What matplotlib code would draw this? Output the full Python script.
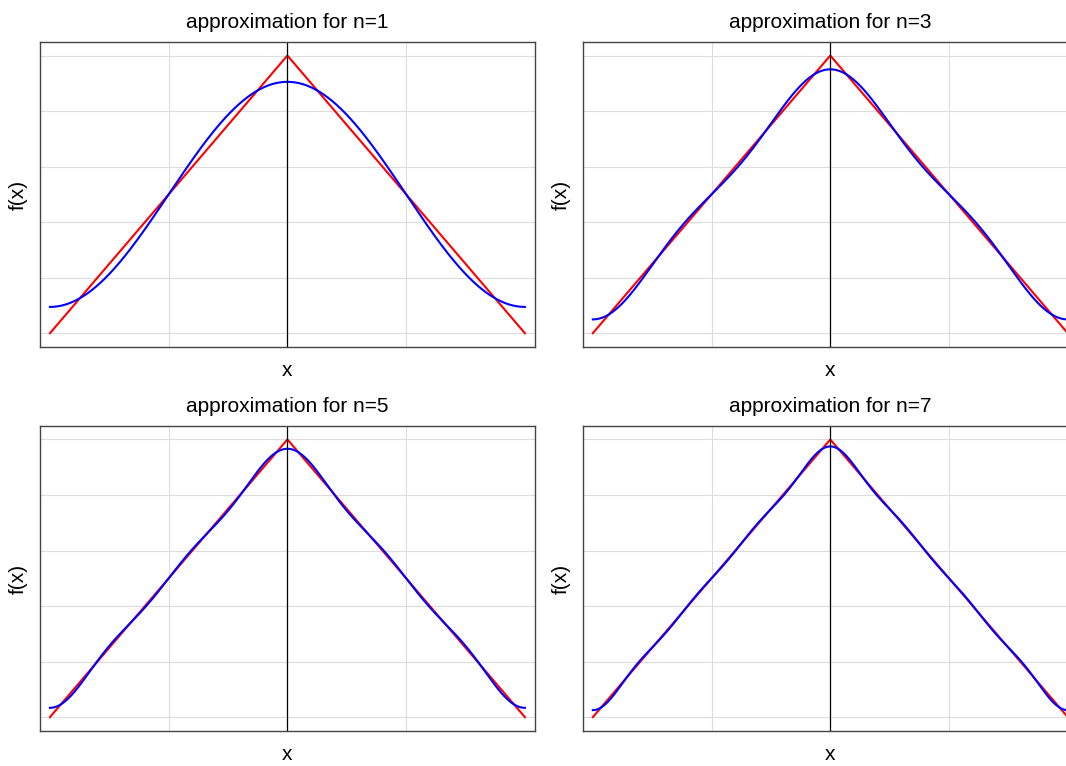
import numpy as np
import matplotlib
matplotlib.use("Agg")
import matplotlib.pyplot as plt

plt.rcParams["font.family"] = ["Liberation Sans", "DejaVu Sans"]

# triangle wave f(x) = 1 - |x| on [-1, 1] and its Fourier partial sums
orders = [1, 3, 5, 7]
x_range = [-1.0, 1.0]
x_ticks = [-0.5, 0.0, 0.5]
y_ticks = [0.0, 0.2, 0.4, 0.6, 0.8, 1.0]

x = np.linspace(x_range[0], x_range[1], 600)
f = 1 - np.abs(x)


def partial_sum(xv, n):
    s = np.full_like(xv, 0.5)
    for k in range(1, n + 1, 2):
        s += 4 / (np.pi ** 2 * k ** 2) * np.cos(k * np.pi * xv)
    return s


fig, axes = plt.subplots(2, 2, figsize=(10.66, 7.66), dpi=100)
fig.subplots_adjust(left=0.0375, right=1.011, top=0.945, bottom=0.0457,
                    wspace=0.097, hspace=0.259)

for ax, n in zip(axes.flat, orders):
    ax.plot(x, f, color="red", lw=1.5)
    ax.plot(x, partial_sum(x, n), color="blue", lw=1.5)
    ax.axvline(0, color="black", lw=0.9)
    ax.set_xlim(-1.042, 1.042)
    ax.set_xticks(x_ticks)
    ax.set_yticks(y_ticks)
    ax.tick_params(length=0, labelbottom=False, labelleft=False)
    ax.grid(True, color="#dcdcdc", lw=0.8)
    ax.set_axisbelow(True)
    for sp in ax.spines.values():
        sp.set_color("#444444")
        sp.set_linewidth(1.0)
    ax.set_title(f"approximation for n={n}", fontsize=15, pad=10)
    ax.set_xlabel("x", fontsize=15, labelpad=10)
    ax.set_ylabel("f(x)", fontsize=15, labelpad=8.5)

fig.savefig("out.png", dpi=100)
